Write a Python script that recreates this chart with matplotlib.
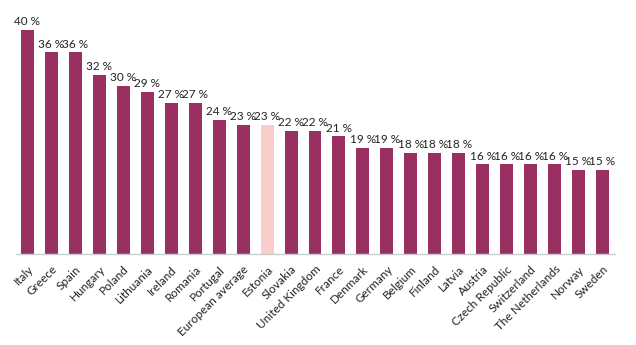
import matplotlib.pyplot as plt

# Данные
countries = ["Italy", "Greece", "Spain", "Hungary", "Poland", "Lithuania", "Ireland",
             "Romania", "Portugal", "European average", "Estonia", "Slovakia",
             "United Kingdom", "France", "Denmark", "Germany", "Belgium", "Finland",
             "Latvia", "Austria", "Czech Republic", "Switzerland", "The Netherlands",
             "Norway", "Sweden"]
values = [40, 36, 36, 32, 30, 29, 27, 27, 24, 23, 23, 22, 22, 21, 19, 19, 18, 18, 18,
          16, 16, 16, 16, 15, 15]
highlight = "Estonia"

plt.rcParams['font.family'] = ['Lato', 'DejaVu Sans']

fig = plt.figure(figsize=(6.36, 3.45), dpi=100)
ax = fig.add_axes([15.5 / 636, 91 / 345, 599 / 636, 244 / 345])

colors = ["#F9CDC9" if c == highlight else "#993061" for c in countries]
x = range(len(countries))
bars = ax.bar(x, values, width=0.54, color=colors)

for xi, v in zip(x, values):
    ax.text(xi, v + 0.5, f"{v} %", ha="center", va="bottom", fontsize=8.5, color="#222222")

ax.set_xlim(-0.5, len(countries) - 0.5)
ax.set_ylim(0, 244 / 5.6)
ax.set_xticks(list(x))
ax.set_xticklabels(countries, rotation=45, ha="right", rotation_mode="anchor",
                   fontsize=8.5, color="#222222")
ax.tick_params(axis="x", length=0, pad=7)
ax.set_yticks([])
for s in ["top", "right", "left"]:
    ax.spines[s].set_visible(False)
ax.spines["bottom"].set_color("#cccccc")
ax.spines["bottom"].set_linewidth(1)

plt.savefig("out.png", dpi=100)
plt.close()
